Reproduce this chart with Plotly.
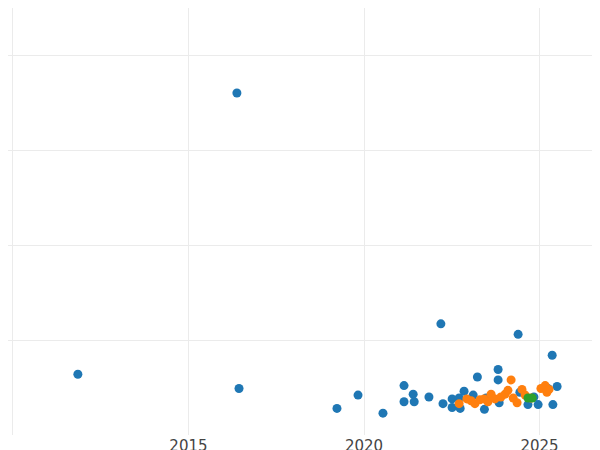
import plotly.graph_objects as go

blue_x = [2011.85, 2016.38, 2016.44, 2019.23, 2019.83, 2020.54, 2021.14, 2021.14, 2021.40, 2021.43,
          2021.85, 2022.19, 2022.25, 2022.51, 2022.51, 2022.71, 2022.74, 2022.85, 2023.11, 2023.23,
          2023.43, 2023.48, 2023.82, 2023.82, 2023.85, 2024.39, 2024.44, 2024.67, 2024.84, 2024.96,
          2025.36, 2025.38, 2025.50, 2025.24]
blue_y = [64, 360, 49, 28, 42, 23, 52, 35, 43, 35,
          40, 117, 33, 38, 29, 39, 28, 46, 42, 61,
          27, 39, 58, 69, 34, 106, 45, 32, 40, 32,
          84, 32, 51, 49]

orange_x = [2022.71, 2022.93, 2023.05, 2023.16, 2023.30, 2023.42, 2023.53, 2023.62, 2023.73, 2023.90,
            2024.02, 2024.10, 2024.19, 2024.25, 2024.36, 2024.50, 2024.59, 2024.76, 2025.04, 2025.16,
            2025.21, 2025.27]
orange_y = [33, 38, 36, 33, 37, 38, 35, 43, 38, 40,
            43, 47, 58, 39, 34, 48, 42, 39, 49, 52,
            45, 48]

green_x = [2024.67, 2024.79]
green_y = [39, 39]

fig = go.Figure()
for xs, ys, c in [(blue_x, blue_y, "#1f77b4"), (orange_x, orange_y, "#ff7f0e"), (green_x, green_y, "#2ca02c")]:
    fig.add_trace(go.Scatter(x=xs, y=ys, mode="markers", marker=dict(color=c, size=9), cliponaxis=False))

fig.update_layout(
    width=600, height=450,
    margin=dict(l=0, r=0, t=0, b=23, pad=0),
    plot_bgcolor="white", paper_bgcolor="white",
    showlegend=False,
    font=dict(family="DejaVu Sans", size=15, color="#444"),
)
fig.update_xaxes(range=[2009.86, 2026.95], tickvals=[2010, 2015, 2020, 2025],
                 ticktext=["", "2015", "2020", "2025"], showgrid=True, gridcolor="#ebebeb",
                 zeroline=False, automargin=False, ticklen=0)
fig.update_yaxes(range=[0, 449.5], dtick=100, showticklabels=False, showgrid=True,
                 gridcolor="#ebebeb", zeroline=False, automargin=False)

fig.write_html("out.html")
